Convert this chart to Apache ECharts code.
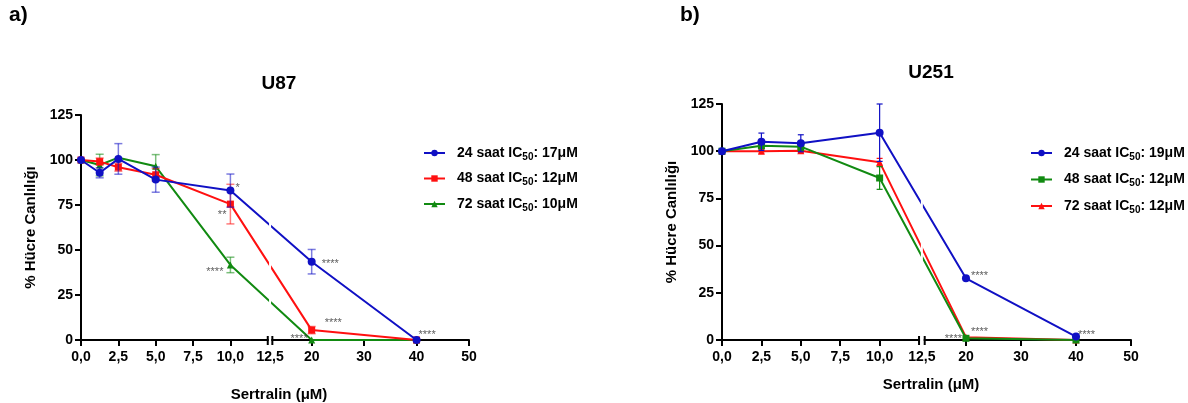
<!DOCTYPE html>
<html lang="tr">
<head>
<meta charset="UTF-8">
<title>Sertralin - U87 / U251</title>
<style>
    html, body { margin: 0; padding: 0; background: #fff; }
    #chartA { position: absolute; left: 0; top: 0; width: 594px; height: 403px; }
    #chartB { position: absolute; left: 594px; top: 0; width: 594px; height: 403px; }
</style>
</head>
<body>
<div id="chartA"></div>
<div id="chartB"></div>
<script src="https://cdn.jsdelivr.net/npm/echarts@6.0.0/dist/echarts.min.js"></script>
<script type="text/javascript">
    // x axis (broken at 12,5)
    var xTicks = [0, 2.5, 5, 7.5, 10, 20, 30, 40, 50];
    var xTickLabels = ['0,0', '2,5', '5,0', '7,5', '10,0', '20', '30', '40', '50'];
    var breakAt = 12.5;
    var breakLabel = '12,5';

    // a) U87
    var concU87 = [0, 1.25, 2.5, 5, 10, 20, 40];
    var u87_24 = [100, 92.9, 100.6, 89.1, 83.0, 43.5, 0];
    var u87_24_err = [0, 2.8, 8.5, 7.0, 9.2, 6.8, 0];
    var u87_48 = [100, 99.1, 96.0, 91.8, 75.5, 5.5, 0];
    var u87_48_err = [0, 2.0, 2.2, 3.5, 11.0, 2.0, 0];
    var u87_72 = [100, 97.2, 101.3, 96.5, 41.7, 0, 0];
    var u87_72_err = [0, 6.0, 0, 6.5, 4.3, 0, 0];
    var starsU87 = [
        [10, 83.0, '*'], [10, 75.5, '**'], [10, 41.7, '****'],
        [20, 43.5, '****'], [20, 5.5, '****'], [20, 0, '****'], [40, 0, '****']
    ];

    // b) U251
    var concU251 = [0, 2.5, 5, 10, 20, 40];
    var u251_24 = [100, 105.0, 104.2, 109.8, 32.7, 1.8];
    var u251_24_err = [0, 4.6, 4.5, 15.2, 0, 0];
    var u251_48 = [100, 102.9, 102.4, 85.8, 0.9, 0];
    var u251_48_err = [0, 1.5, 2.0, 6.0, 0, 0];
    var u251_72 = [100, 100.0, 100.2, 94.2, 1.5, 0];
    var u251_72_err = [0, 1.0, 1.0, 2.0, 0, 0];
    var starsU251 = [
        [20, 32.7, '****'], [20, 1.5, '****'], [20, 0.9, '****'], [40, 1.8, '****']
    ];

    var FONT = '"Liberation Sans", Arial, Helvetica, sans-serif';

    function drawPanel(domId, p) {
        var chart = echarts.init(document.getElementById(domId));
        // broken axis: right part of the axis is compressed
        var ax = function (x) {
            return x <= breakAt ? x : breakAt + p.gap + (x - breakAt) * p.ratio;
        };
        var tickVals = xTicks.map(ax);
        var labelVals = tickVals.slice();
        var labelText = {};
        tickVals.forEach(function (v, i) { labelText[v.toFixed(4)] = xTickLabels[i]; });
        var mid = breakAt + p.gap / 2;
        labelVals.push(mid);
        labelText[mid.toFixed(4)] = breakLabel;

        var series = [];
        p.lines.forEach(function (l) {
            series.push({
                name: l.name,
                type: 'line',
                z: l.z,
                symbol: l.symbol,
                symbolSize: l.size,
                color: l.color,
                lineStyle: { width: 2, color: l.color },
                itemStyle: { color: l.color },
                data: l.conc.map(function (c, i) { return [ax(c), l.vals[i]]; })
            });
            var eb = [];
            l.conc.forEach(function (c, i) {
                if (l.errs[i] > 0) eb.push([ax(c), l.vals[i] - l.errs[i], l.vals[i] + l.errs[i]]);
            });
            series.push({
                type: 'custom',
                silent: true,
                z: l.z,
                renderItem: function (params, api) {
                    var x = api.value(0);
                    var top = api.coord([x, api.value(2)]);
                    var bot = api.coord([x, api.value(1)]);
                    var h = p.cap;
                    var st = { stroke: l.color, lineWidth: p.errWidth, opacity: p.errOpacity };
                    return {
                        type: 'group',
                        children: [
                            { type: 'line', shape: { x1: top[0], y1: top[1], x2: bot[0], y2: bot[1] }, style: st },
                            { type: 'line', shape: { x1: top[0] - h, y1: top[1], x2: top[0] + h, y2: top[1] }, style: st },
                            { type: 'line', shape: { x1: bot[0] - h, y1: bot[1], x2: bot[0] + h, y2: bot[1] }, style: st }
                        ]
                    };
                },
                encode: { x: 0, y: [1, 2] },
                data: eb
            });
        });

        // significance stars
        series.push({
            type: 'scatter',
            silent: true,
            symbolSize: 0,
            z: 10,
            data: p.stars.map(function (s, i) {
                var o = p.starPos[i];
                return {
                    value: [ax(s[0]), s[1]],
                    label: {
                        show: true, position: 'inside', formatter: s[2],
                        align: o[2], verticalAlign: 'middle', offset: [o[0], o[1]],
                        fontSize: 11, fontFamily: FONT, color: '#333'
                    }
                };
            })
        });

        var option = {
            animation: false,
            textStyle: { fontFamily: FONT },
            title: [
                { text: p.tag, left: p.tagLeft, top: 5, padding: 0,
                  textStyle: { fontSize: 21, fontWeight: 'bold', color: '#000', fontFamily: FONT } },
                { text: p.title, left: p.titleX, top: p.titleTop, textAlign: 'center', padding: 0,
                  textStyle: { fontSize: 19, fontWeight: 'bold', color: '#000', fontFamily: FONT } },
                { text: 'Sertralin (\u03bcM)', left: p.titleX, top: p.xNameTop, textAlign: 'center', padding: 0,
                  textStyle: { fontSize: 15, fontWeight: 'bold', color: '#000', fontFamily: FONT } }
            ],
            legend: {
                orient: 'vertical',
                left: p.legendLeft,
                top: p.legendTop,
                itemWidth: 21,
                itemHeight: 8,
                itemGap: p.legendGap,
                selectedMode: false,
                data: p.lines.map(function (l) { return l.name; }),
                formatter: function (n) { return n.replace('IC50', 'IC{s|50}'); },
                textStyle: {
                    fontSize: 14, fontWeight: 'bold', color: '#000', fontFamily: FONT,
                    lineHeight: 18, padding: [0, 0, 0, 7],
                    rich: { s: { fontSize: 10, fontWeight: 'bold', color: '#000', fontFamily: FONT,
                                 lineHeight: 9, verticalAlign: 'bottom' } }
                }
            },
            grid: { left: p.grid[0], top: p.grid[1], width: p.grid[2], height: p.grid[3] },
            xAxis: {
                type: 'value',
                min: 0,
                max: ax(50),
                splitLine: { show: false },
                axisLine: { lineStyle: { color: '#000', width: 2 } },
                axisTick: { length: 6, lineStyle: { color: '#000', width: 2 }, customValues: tickVals },
                axisLabel: {
                    customValues: labelVals, margin: 10, color: '#000', fontSize: 14, fontWeight: 'bold', fontFamily: FONT,
                    formatter: function (v) { return labelText[v.toFixed(4)] || ''; }
                }
            },
            yAxis: {
                type: 'value',
                min: 0,
                max: 125,
                interval: 25,
                name: '% H\u00fccre Canl\u0131l\u0131\u011f\u0131',
                nameLocation: 'middle',
                nameRotate: 90,
                nameGap: p.yNameGap,
                nameTextStyle: { fontSize: 15, fontWeight: 'bold', color: '#000', fontFamily: FONT },
                splitLine: { show: false },
                axisLine: { show: true, lineStyle: { color: '#000', width: 2 } },
                axisTick: { show: true, length: 6, lineStyle: { color: '#000', width: 2 } },
                axisLabel: { margin: 8, color: '#000', fontSize: 14, fontWeight: 'bold', fontFamily: FONT }
            },
            series: series
        };
        chart.setOption(option);

        // break marks on the x axis
        var y0 = chart.convertToPixel({ gridIndex: 0 }, [0, 0])[1];
        var yT = chart.convertToPixel({ gridIndex: 0 }, [0, 125])[1];
        var xa = chart.convertToPixel({ gridIndex: 0 }, [breakAt, 0])[0];
        var xb = chart.convertToPixel({ gridIndex: 0 }, [breakAt + p.gap, 0])[0];
        chart.setOption({
            graphic: [
                { type: 'rect', z: 100, silent: true, shape: { x: (xa + xb) / 2 - 1, y: yT, width: 2, height: y0 - yT - 2 }, style: { fill: '#fff' } },
                { type: 'rect', z: 100, silent: true, shape: { x: xa + 1, y: y0 - 2, width: xb - xa - 2, height: 4 }, style: { fill: '#fff' } },
                { type: 'line', z: 101, silent: true, shape: { x1: xa, y1: y0 - 4, x2: xa, y2: y0 + 5 }, style: { stroke: '#000', lineWidth: 2 } },
                { type: 'line', z: 101, silent: true, shape: { x1: xb, y1: y0 - 4, x2: xb, y2: y0 + 5 }, style: { stroke: '#000', lineWidth: 2 } }
            ]
        });
    }

    var BLUE = '#1010c4', RED = '#ff1010', GREEN = '#118a11';

    drawPanel('chartA', {
        tag: 'a)', tagLeft: 9, title: 'U87', titleX: 279, titleTop: 74, xNameTop: 387,
        grid: [81, 115, 388, 225], gap: 0.307, ratio: 0.351,
        yNameGap: 32, legendLeft: 418, legendTop: 139, legendGap: 7.5,
        cap: 4, errWidth: 1.5, errOpacity: 0.55,
        lines: [
            { name: '24 saat IC50: 17\u03bcM', color: BLUE, symbol: 'circle', size: 8, z: 4, conc: concU87, vals: u87_24, errs: u87_24_err },
            { name: '48 saat IC50: 12\u03bcM', color: RED, symbol: 'rect', size: 7, z: 3, conc: concU87, vals: u87_48, errs: u87_48_err },
            { name: '72 saat IC50: 10\u03bcM', color: GREEN, symbol: 'triangle', size: 7, z: 2, conc: concU87, vals: u87_72, errs: u87_72_err }
        ],
        stars: starsU87,
        starPos: [[5, -3, 'left'], [-4, 11, 'right'], [-7, 7, 'right'], [10, 2, 'left'], [13, -7, 'left'], [-4, -1, 'right'], [2, -5, 'left']]
    });

    drawPanel('chartB', {
        tag: 'b)', tagLeft: 86, title: 'U251', titleX: 337, titleTop: 63, xNameTop: 377,
        grid: [128, 104, 409, 236], gap: 0.36, ratio: 0.349,
        yNameGap: 31, legendLeft: 431, legendTop: 139, legendGap: 8.5,
        cap: 3, errWidth: 1.2, errOpacity: 1,
        lines: [
            { name: '24 saat IC50: 19\u03bcM', color: BLUE, symbol: 'circle', size: 8, z: 4, conc: concU251, vals: u251_24, errs: u251_24_err },
            { name: '48 saat IC50: 12\u03bcM', color: GREEN, symbol: 'rect', size: 7, z: 3, conc: concU251, vals: u251_48, errs: u251_48_err },
            { name: '72 saat IC50: 12\u03bcM', color: RED, symbol: 'triangle', size: 7, z: 2, conc: concU251, vals: u251_72, errs: u251_72_err }
        ],
        stars: starsU251,
        starPos: [[5, -2, 'left'], [5, -5, 'left'], [-4, 1, 'right'], [2, -2, 'left']]
    });
</script>
</body>
</html>
